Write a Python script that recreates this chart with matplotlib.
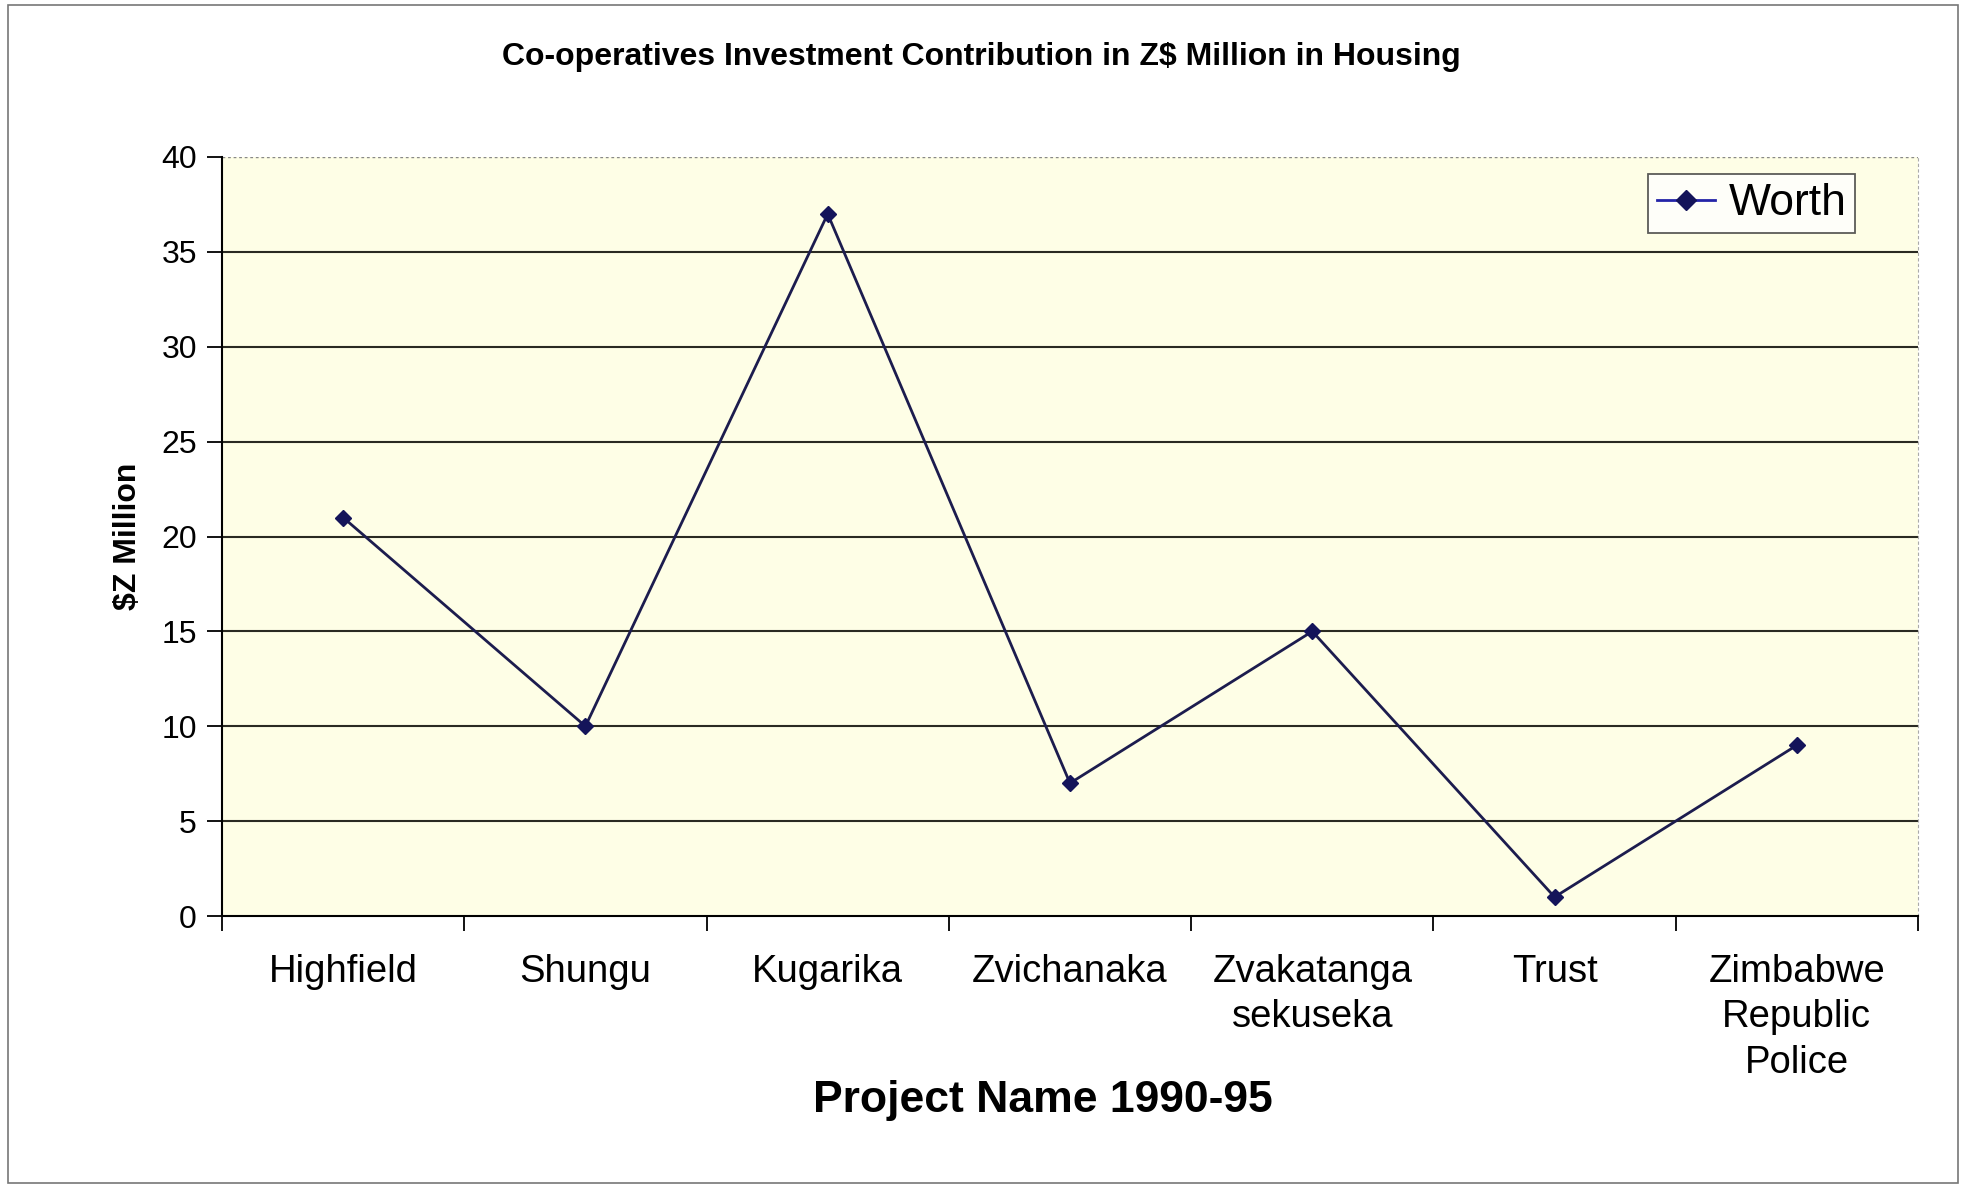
import matplotlib.pyplot as plt
from matplotlib.patches import Rectangle

plt.rcParams['font.family'] = ['Liberation Sans', 'DejaVu Sans']

# Co-operative housing projects and their investment worth
projects = ['Highfield', 'Shungu', 'Kugarika', 'Zvichanaka',
            'Zvakatanga\nsekuseka', 'Trust', 'Zimbabwe\nRepublic\nPolice']
worth = [21, 10, 37, 7, 15, 1, 9]
y_ticks = [0, 5, 10, 15, 20, 25, 30, 35, 40]

fig = plt.figure(figsize=(19.63, 11.87), dpi=100)
ax = fig.add_axes([222 / 1963, 1 - 916 / 1187, (1918 - 222) / 1963, (916 - 157) / 1187])
ax.set_facecolor('#FEFEE6')

x = list(range(len(projects)))
ax.plot(x, worth, color='#1c1c4e', linewidth=2, marker='D', markersize=8,
        markerfacecolor='#14145a', markeredgecolor='#14145a', label='Worth', zorder=3)

# horizontal gridlines, Excel style
for v in y_ticks[1:-1]:
    ax.axhline(v, color='#2a2a22', linewidth=1.5, zorder=1)
ax.axhline(40, color='#888888', linewidth=1, linestyle=(0, (2, 2)), zorder=1)

ax.set_xlim(-0.5, len(projects) - 0.5)
ax.set_ylim(0, 40)
ax.set_yticks(y_ticks)
ax.set_yticklabels([str(v) for v in y_ticks], fontsize=23)

# category labels centred, tick marks between categories
ax.set_xticks(x)
ax.set_xticklabels(projects, fontsize=27.5, linespacing=1.34)
ax.tick_params(axis='x', which='major', length=0, pad=27)
ax.set_xticks([i - 0.5 for i in range(len(projects) + 1)], minor=True)
ax.tick_params(axis='x', which='minor', length=11, width=1.3, direction='out')
ax.tick_params(axis='y', length=11, width=1.3, direction='out', pad=7)

for side in ['top', 'right']:
    ax.spines[side].set_visible(False)
ax.spines['left'].set_linewidth(1.5)
ax.spines['bottom'].set_linewidth(1.5)
ax.spines['right'].set_visible(True)
ax.spines['right'].set_color('#aaaaaa')
ax.spines['right'].set_linestyle((0, (2, 3)))
ax.spines['right'].set_linewidth(0.8)

ax.set_ylabel('$Z Million', fontsize=23, fontweight='bold', labelpad=13)
ax.set_xlabel('Project Name 1990-95', fontsize=32, fontweight='bold', labelpad=12)
ax.xaxis.set_label_coords((1043 - 222) / (1918 - 222), -0.216)
fig.text(0.5, 1 - 56.5 / 1187, 'Co-operatives Investment Contribution in Z$ Million in Housing',
         ha='center', va='center', fontsize=23, fontweight='bold')

leg = ax.legend(loc='upper right', fontsize=32, frameon=True, fancybox=False,
                borderpad=0.2, handlelength=1.3, handletextpad=0.3, borderaxespad=0,
                markerscale=1.3, bbox_to_anchor=(0.963, 0.977))
leg.get_frame().set_edgecolor('#333333')
leg.get_frame().set_linewidth(1.3)
leg.get_lines()[0].set_color('#2424a8')

# outer chart border
fig.patches.append(Rectangle((8 / 1963, 4 / 1187), 1950 / 1963, 1178 / 1187,
                             transform=fig.transFigure, fill=False,
                             edgecolor='#777777', linewidth=1.2))

fig.savefig('out.png', dpi=100)
